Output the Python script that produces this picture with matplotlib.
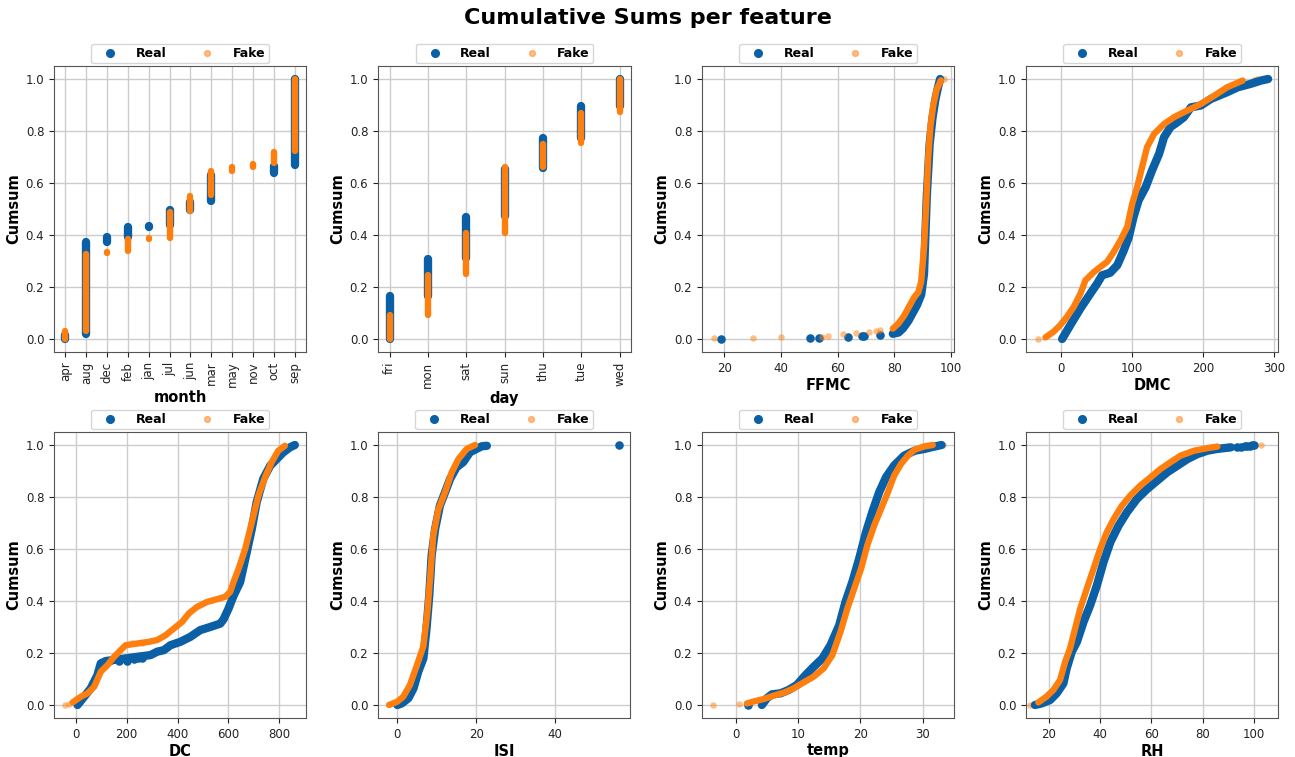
import matplotlib
matplotlib.use("Agg")
import matplotlib.pyplot as plt
from matplotlib.lines import Line2D

REAL_C = "#0b5fa5"
FAKE_C = "#ff7f0e"

# ---------------- categorical features (cumsum low / high per category) ----
months = ["apr", "aug", "dec", "feb", "jan", "jul", "jun", "mar", "may", "nov", "oct", "sep"]
month_real_lo = [0.000, 0.020, 0.375, 0.393, 0.431, 0.437, 0.497, 0.530, 0.634, 0.637, 0.640, 0.669]
month_real_hi = [0.017, 0.373, 0.391, 0.429, 0.433, 0.495, 0.528, 0.632, 0.636, 0.638, 0.667, 1.000]
month_fake_lo = [0.000, 0.032, 0.330, 0.340, 0.386, 0.390, 0.492, 0.553, 0.648, 0.662, 0.678, 0.722]
month_fake_hi = [0.030, 0.328, 0.335, 0.383, 0.388, 0.490, 0.551, 0.645, 0.660, 0.675, 0.720, 1.000]

days = ["fri", "mon", "sat", "sun", "thu", "tue", "wed"]
day_real_lo = [0.000, 0.166, 0.310, 0.472, 0.656, 0.774, 0.898]
day_real_hi = [0.164, 0.308, 0.470, 0.654, 0.772, 0.896, 1.000]
day_fake_lo = [0.000, 0.093, 0.250, 0.408, 0.662, 0.752, 0.872]
day_fake_hi = [0.091, 0.248, 0.406, 0.660, 0.750, 0.870, 1.000]

# ---------------- continuous features: dense curve + isolated points ------
ffmc_real_x = [79.5, 81.5, 83.0, 85.0, 86.5, 88.0, 89.5, 90.5, 91.0, 91.5, 92.0, 92.5, 93.5, 94.5, 95.5, 96.2]
ffmc_real_y = [0.020, 0.025, 0.040, 0.070, 0.100, 0.130, 0.170, 0.250, 0.400, 0.550, 0.650, 0.750, 0.850, 0.920, 0.970, 1.000]
ffmc_real_sx = [18.7, 50.4, 53.4, 63.5, 68.5, 69.2, 75.1]
ffmc_real_sy = [0.000, 0.003, 0.004, 0.007, 0.010, 0.012, 0.015]
ffmc_fake_x = [79.5, 81.5, 83.5, 85.5, 87.0, 88.5, 89.5, 90.5, 91.2, 92.0, 92.8, 93.8, 95.0, 96.5]
ffmc_fake_y = [0.040, 0.060, 0.090, 0.130, 0.160, 0.180, 0.220, 0.350, 0.500, 0.700, 0.820, 0.900, 0.960, 0.995]
ffmc_fake_sx = [16.2, 30.0, 40.0, 54.5, 56.5, 62.0, 66.5, 71.0, 73.5, 75.0, 97.5]
ffmc_fake_sy = [0.002, 0.004, 0.006, 0.008, 0.012, 0.018, 0.022, 0.028, 0.032, 0.035, 1.000]

dmc_real_x = [1, 12.7, 27, 41, 50.5, 57.5, 69, 79, 88, 95, 102, 109, 119, 128, 138, 145, 154, 164, 173, 183, 197, 211, 234, 249, 267, 282, 292]
dmc_real_y = [0.0, 0.054, 0.118, 0.175, 0.213, 0.245, 0.255, 0.284, 0.34, 0.39, 0.47, 0.533, 0.584, 0.648, 0.712, 0.776, 0.815, 0.834, 0.853, 0.891, 0.898, 0.923, 0.949, 0.968, 0.981, 0.994, 1.0]
dmc_real_sx = []
dmc_real_sy = []
dmc_fake_x = [-22.6, -11, -1.4, 8, 17.5, 27, 34, 46, 55, 64.6, 74, 83.5, 93, 100, 107, 114, 121, 131, 145, 159, 178, 197, 216, 234, 256]
dmc_fake_y = [0.006, 0.028, 0.054, 0.086, 0.124, 0.175, 0.226, 0.258, 0.277, 0.297, 0.335, 0.38, 0.431, 0.52, 0.584, 0.661, 0.738, 0.789, 0.827, 0.853, 0.879, 0.904, 0.936, 0.968, 0.994]
dmc_fake_sx = [-33.5, 272, 277]
dmc_fake_sy = [0.0, 0.998, 1.0]

dc_real_x = [6.5, 32.6, 58.7, 84.8, 97.9, 117, 293.6, 320, 346, 372, 411, 450, 489, 528, 568, 581, 600, 620, 646, 672, 692, 711, 737, 764, 790, 816, 842, 861]
dc_real_y = [0.0, 0.032, 0.064, 0.115, 0.16, 0.169, 0.192, 0.205, 0.211, 0.23, 0.243, 0.262, 0.288, 0.30, 0.313, 0.33, 0.37, 0.42, 0.473, 0.588, 0.678, 0.78, 0.87, 0.92, 0.946, 0.972, 0.991, 1.0]
dc_real_sx = [130, 170, 202, 228, 245, 262]
dc_real_sy = [0.169, 0.169, 0.169, 0.178, 0.180, 0.182]
dc_fake_x = [-13, 19.6, 45.7, 72, 98, 124, 150, 176, 196, 287, 320, 352, 385, 418, 444, 476, 515, 555, 587, 607, 620, 640, 666, 692, 718, 744, 770, 796, 822]
dc_fake_y = [0.01, 0.032, 0.045, 0.07, 0.128, 0.153, 0.185, 0.211, 0.23, 0.243, 0.25, 0.268, 0.294, 0.32, 0.352, 0.377, 0.396, 0.407, 0.416, 0.435, 0.473, 0.524, 0.601, 0.703, 0.806, 0.876, 0.934, 0.978, 0.997]
dc_fake_sx = [-42, -26, 219.6, 261]
dc_fake_sy = [0.0, 0.003, 0.237, 0.24]

isi_real_x = [0, 1.1, 2.8, 4.1, 5.3, 6.6, 7.4, 8.1, 8.7, 9.6, 10.8, 12.1, 13.4, 15, 16.7, 18.4, 20.1, 21.4, 22.7]
isi_real_y = [0.0, 0.006, 0.026, 0.064, 0.128, 0.179, 0.294, 0.422, 0.575, 0.678, 0.767, 0.818, 0.87, 0.914, 0.934, 0.972, 0.985, 0.995, 0.997]
isi_real_sx = [56.1]
isi_real_sy = [1.0]
isi_fake_x = [-2.1, 0, 1.5, 3.2, 4.9, 6.6, 7.6, 8.3, 9.1, 10.4, 12.1, 13.8, 15.5, 17.6, 19.7]
isi_fake_y = [0.0, 0.013, 0.032, 0.077, 0.15, 0.226, 0.355, 0.486, 0.65, 0.752, 0.818, 0.895, 0.946, 0.985, 1.0]
isi_fake_sx = []
isi_fake_sy = []

temp_real_x = [4.2, 5.0, 5.8, 7.2, 8.5, 9.8, 11.2, 12.5, 13.9, 15.2, 16.6, 17.6, 18.7, 19.8, 20.9, 21.9, 23.0, 24.1, 25.4, 27.0, 28.7, 30.3, 31.3, 33.0]
temp_real_y = [0.0, 0.026, 0.041, 0.045, 0.058, 0.077, 0.115, 0.147, 0.179, 0.23, 0.307, 0.396, 0.473, 0.563, 0.665, 0.742, 0.818, 0.876, 0.921, 0.959, 0.978, 0.985, 0.991, 1.0]
temp_real_sx = [2.0]
temp_real_sy = [0.0]
temp_fake_x = [1.8, 3.1, 4.5, 6.1, 7.7, 9.3, 10.9, 12.5, 14.1, 15.5, 16.8, 17.9, 19.0, 20.1, 21.1, 22.2, 23.3, 24.4, 25.4, 26.5, 27.6, 28.7, 30.3, 31.6]
temp_fake_y = [0.006, 0.015, 0.023, 0.036, 0.047, 0.064, 0.087, 0.109, 0.141, 0.192, 0.281, 0.371, 0.448, 0.524, 0.614, 0.69, 0.754, 0.818, 0.882, 0.927, 0.959, 0.982, 0.995, 1.0]
temp_fake_sx = [-3.6, 0.6, 33.2]
temp_fake_sy = [0.0, 0.003, 1.0]

rh_real_x = [14.5, 17.1, 20.4, 23.0, 25.6, 26.9, 28.9, 30.9, 33.5, 36.1, 38.7, 41.3, 44.0, 47.2, 50.5, 54.4, 58.4, 62.3, 66.2, 70.1, 74.1, 78.0, 81.9, 85.8, 91.1]
rh_real_y = [0.0, 0.006, 0.019, 0.045, 0.083, 0.141, 0.205, 0.243, 0.32, 0.384, 0.46, 0.55, 0.627, 0.69, 0.742, 0.793, 0.831, 0.863, 0.895, 0.92, 0.946, 0.965, 0.978, 0.985, 0.991]
rh_real_sx = [93.5, 95.0, 96.5, 97.5, 98.5, 99.5, 100.0]
rh_real_sy = [0.993, 0.994, 0.995, 0.996, 0.998, 0.999, 1.0]
rh_fake_x = [15.8, 19.0, 21.7, 24.3, 26.3, 28.2, 30.2, 32.2, 34.8, 37.4, 40.0, 42.6, 45.3, 48.5, 51.8, 55.7, 59.7, 63.6, 67.5, 71.4, 76.7, 81.9, 85.8]
rh_fake_y = [0.01, 0.032, 0.058, 0.096, 0.166, 0.217, 0.294, 0.371, 0.448, 0.524, 0.601, 0.665, 0.716, 0.767, 0.806, 0.844, 0.876, 0.908, 0.934, 0.959, 0.978, 0.988, 0.994]
rh_fake_sx = [12.5, 90.4, 102.8]
rh_fake_sy = [0.0, 0.997, 1.0]

# ---------------- figure --------------------------------------------------
W, H = 1295, 757
fig = plt.figure(figsize=(W / 100, H / 100), dpi=100)
fig.suptitle("Cumulative Sums per feature", fontsize=16, fontweight="bold", y=0.99)

# axes boxes in pixels: (left, top, right, bottom)
boxes = [
    (54, 66, 306, 352), (378, 66, 631, 352), (702, 66, 954, 352), (1026, 66, 1278, 352),
    (54, 432, 306, 718), (378, 432, 630, 718), (702, 432, 954, 718), (1026, 432, 1278, 718),
]

REAL_LW, FAKE_LW = 6.0, 4.6
REAL_S, FAKE_S = 38, 22
TICK_FS = 8.5
LABEL_FS = 10.5


def make_ax(box):
    l, t, r, b = box
    ax = fig.add_axes([l / W, 1 - b / H, (r - l) / W, (b - t) / H])
    ax.grid(True, color="#cccccc", linewidth=1.0)
    ax.set_axisbelow(True)
    for s in ax.spines.values():
        s.set_color("#555555")
    ax.tick_params(labelsize=TICK_FS, colors="#222222")
    ax.set_ylabel("Cumsum", fontsize=LABEL_FS, fontweight="bold", labelpad=3)
    ax.set_yticks([0.0, 0.2, 0.4, 0.6, 0.8, 1.0])
    return ax


def add_legend(ax):
    handles = [
        Line2D([], [], linestyle="none", marker="o", markersize=5.5, color=REAL_C),
        Line2D([], [], linestyle="none", marker="o", markersize=4.2, color=FAKE_C, alpha=0.5),
    ]
    ax.legend(handles, ["Real", "Fake"], loc="lower center", bbox_to_anchor=(0.5, 1.0),
              ncol=2, prop={"weight": "bold", "size": 9}, frameon=True,
              borderaxespad=0.22, columnspacing=2.0, handletextpad=0.8,
              borderpad=0.26, handlelength=2.5)


def cat_panel(ax, cats, rlo, rhi, flo, fhi, xlabel):
    for i in range(len(cats)):
        ax.plot([i, i], [rlo[i], rhi[i]], color=REAL_C, lw=REAL_LW, solid_capstyle="round")
    for i in range(len(cats)):
        ax.plot([i, i], [flo[i], fhi[i]], color=FAKE_C, lw=FAKE_LW, solid_capstyle="round")
    ax.set_xticks(range(len(cats)))
    ax.set_xticklabels(cats, rotation=90)
    n = len(cats) - 1
    ax.set_xlim(-0.05 * n, n + 0.05 * n)
    ax.set_ylim(-0.05, 1.05)
    ax.set_xlabel(xlabel, fontsize=LABEL_FS, fontweight="bold", labelpad=2)


def num_panel(ax, rx, ry, rsx, rsy, fx, fy, fsx, fsy, xlabel, xticks):
    ax.plot(rx, ry, color=REAL_C, lw=REAL_LW, solid_capstyle="round", solid_joinstyle="round")
    if rsx:
        ax.scatter(rsx, rsy, color=REAL_C, s=REAL_S, linewidths=0)
    ax.plot(fx, fy, color=FAKE_C, lw=FAKE_LW, solid_capstyle="round", solid_joinstyle="round")
    if fsx:
        ax.scatter(fsx, fsy, color=FAKE_C, s=FAKE_S, alpha=0.5, linewidths=0)
    ax.set_xticks(xticks)
    ax.set_ylim(-0.05, 1.05)
    ax.set_xlabel(xlabel, fontsize=LABEL_FS, fontweight="bold", labelpad=2)


axes = [make_ax(b) for b in boxes]

cat_panel(axes[0], months, month_real_lo, month_real_hi, month_fake_lo, month_fake_hi, "month")
cat_panel(axes[1], days, day_real_lo, day_real_hi, day_fake_lo, day_fake_hi, "day")
num_panel(axes[2], ffmc_real_x, ffmc_real_y, ffmc_real_sx, ffmc_real_sy,
          ffmc_fake_x, ffmc_fake_y, ffmc_fake_sx, ffmc_fake_sy, "FFMC", [20, 40, 60, 80, 100])
num_panel(axes[3], dmc_real_x, dmc_real_y, dmc_real_sx, dmc_real_sy,
          dmc_fake_x, dmc_fake_y, dmc_fake_sx, dmc_fake_sy, "DMC", [0, 100, 200, 300])
num_panel(axes[4], dc_real_x, dc_real_y, dc_real_sx, dc_real_sy,
          dc_fake_x, dc_fake_y, dc_fake_sx, dc_fake_sy, "DC", [0, 200, 400, 600, 800])
num_panel(axes[5], isi_real_x, isi_real_y, isi_real_sx, isi_real_sy,
          isi_fake_x, isi_fake_y, isi_fake_sx, isi_fake_sy, "ISI", [0, 20, 40])
num_panel(axes[6], temp_real_x, temp_real_y, temp_real_sx, temp_real_sy,
          temp_fake_x, temp_fake_y, temp_fake_sx, temp_fake_sy, "temp", [0, 10, 20, 30])
num_panel(axes[7], rh_real_x, rh_real_y, rh_real_sx, rh_real_sy,
          rh_fake_x, rh_fake_y, rh_fake_sx, rh_fake_sy, "RH", [20, 40, 60, 80, 100])

axes[2].set_xlim(12.1, 101.1)
axes[3].set_xlim(-50, 306)
axes[4].set_xlim(-86, 905)
axes[5].set_xlim(-4.9, 59.0)
axes[6].set_xlim(-5.4, 35.0)
axes[7].set_xlim(11.0, 109.5)

for ax in axes:
    add_legend(ax)

fig.savefig("out.png", dpi=100)
